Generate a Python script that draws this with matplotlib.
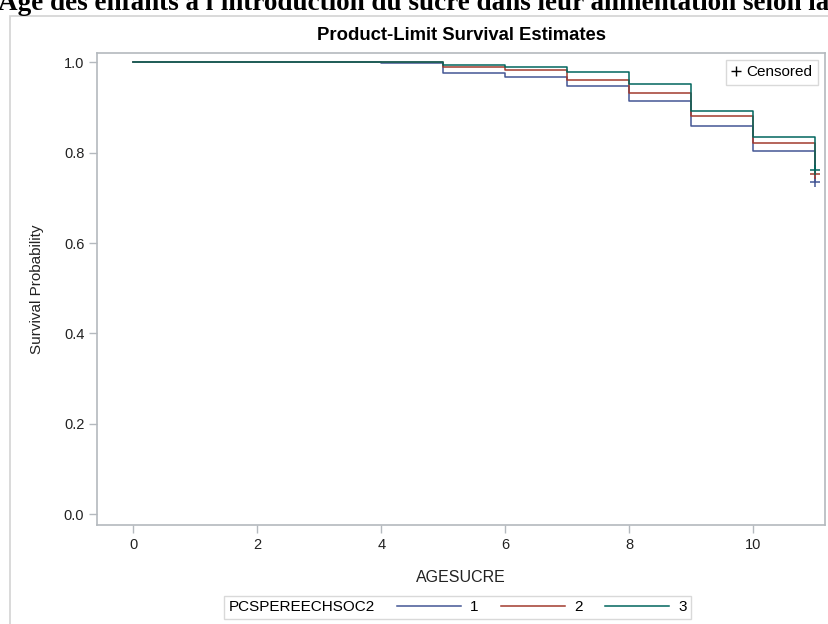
import matplotlib
matplotlib.use('Agg')
import matplotlib.pyplot as plt
from matplotlib.lines import Line2D
from matplotlib.patches import Rectangle

plt.rcParams['font.family'] = ['Liberation Sans', 'DejaVu Sans']

# Kaplan-Meier step estimates by group
times = [0, 4, 5, 6, 7, 8, 9, 10, 11]
surv_1 = [1.0, 0.998, 0.977, 0.967, 0.947, 0.914, 0.859, 0.804, 0.735]
surv_2 = [1.0, 1.0, 0.989, 0.983, 0.961, 0.933, 0.882, 0.821, 0.752]
surv_3 = [1.0, 1.0, 0.995, 0.989, 0.978, 0.952, 0.893, 0.834, 0.761]
groups = ['1', '2', '3']
colors = ['#445694', '#A23A2E', '#01665E']
censor_time = 11

header = "Age des enfants à l'introduction du sucre dans leur alimentation selon la"
title = 'Product-Limit Survival Estimates'

fig = plt.figure(figsize=(8.29, 6.24), dpi=100)
ax = fig.add_axes([0.1176, 0.1587, 0.877, 0.756])

gray = '#B4B9BE'
lines = []
for s, c, g in zip([surv_1, surv_2, surv_3], colors, groups):
    ln, = ax.step(times, s, where='post', color=c, lw=1.1, label=g)
    ax.plot([censor_time], [s[-1]], marker='+', ms=7, mew=1.1, color=c, ls='none')
    lines.append(ln)

ax.set_xlim(-0.577, 11.15)
ax.set_ylim(-0.024, 1.02)
ax.set_xticks([0, 2, 4, 6, 8, 10])
ax.set_yticks([0.0, 0.2, 0.4, 0.6, 0.8, 1.0])
ax.set_yticklabels(['0.0', '0.2', '0.4', '0.6', '0.8', '1.0'])
for sp in ax.spines.values():
    sp.set_color(gray)
    sp.set_linewidth(1.2)
ax.tick_params(colors=gray, labelcolor='#222222', labelsize=10.5, length=6, width=1)
ax.set_xlabel('AGESUCRE', fontsize=11.5, color='#222222', labelpad=13)
ax.set_ylabel('Survival Probability', fontsize=11, color='#222222', labelpad=14)

cens = ax.legend([Line2D([], [], color='black', marker='+', ls='none', ms=7, mew=1)],
                 ['Censored'], loc='upper right', fontsize=11, frameon=True,
                 fancybox=False, edgecolor='#D0D0D0', handlelength=0.6,
                 handletextpad=0.4, borderpad=0.35, borderaxespad=0.45)
cens.get_frame().set_linewidth(1)

leg = fig.legend(lines, groups, loc='lower center', bbox_to_anchor=(0.552, -0.004),
                 ncol=3, title='PCSPEREECHSOC2', fontsize=11, title_fontsize=11,
                 frameon=True, fancybox=False, edgecolor='#D0D0D0',
                 handlelength=4.2, handletextpad=0.6, columnspacing=0.5,
                 borderpad=0.3)
leg.get_frame().set_linewidth(1)
# put the legend title to the left of the entries
box = leg.get_children()[0]
title_box = box.get_children()[0]
entries = box.get_children()[1]
box._children = [entries]
entries._children = [title_box] + entries.get_children()
entries.sep = 16

fig.text(0.5567, 1 - 35 / 624, title, ha='center', va='center',
         fontsize=13.3, fontweight='bold')
fig.text(-0.003, 1 - 10 / 624, header, ha='left', va='baseline',
         fontsize=19.5, fontweight='bold', family=['Liberation Serif'])
fig.add_artist(Rectangle((10.5 / 829, -0.05), 1.0, 1.05 - 16 / 624,
                         transform=fig.transFigure, fill=False,
                         ec='#D3D3D3', lw=1.2))

fig.savefig('out.png', dpi=100)
